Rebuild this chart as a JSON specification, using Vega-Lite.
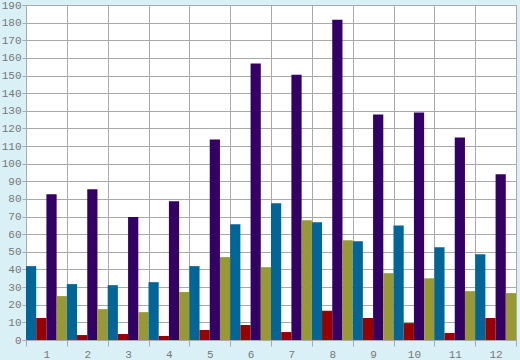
{
  "$schema": "https://vega.github.io/schema/vega-lite/v6.json",
  "autosize": "none",
  "width": 490,
  "height": 335,
  "padding": {"left": 26, "top": 5, "right": 4, "bottom": 20},
  "background": "#daf0f7",
  "config": {
    "view": {"fill": "white", "stroke": "#aaaaaa", "strokeWidth": 1},
    "axis": {
      "labelFont": "Liberation Mono",
      "labelFontSize": 11,
      "labelColor": "#777777",
      "gridColor": "#aaaaaa",
      "gridOpacity": 1,
      "gridWidth": 1,
      "tickColor": "#aaaaaa",
      "domainColor": "#aaaaaa",
      "title": null
    }
  },
  "data": {
    "values": [
      {"month": "1", "series": "s1", "value": 41.9},
      {"month": "1", "series": "s2", "value": 12.5},
      {"month": "1", "series": "s3", "value": 82.6},
      {"month": "1", "series": "s4", "value": 24.9},
      {"month": "2", "series": "s1", "value": 31.7},
      {"month": "2", "series": "s2", "value": 2.8},
      {"month": "2", "series": "s3", "value": 85.5},
      {"month": "2", "series": "s4", "value": 17.5},
      {"month": "3", "series": "s1", "value": 31.1},
      {"month": "3", "series": "s2", "value": 3.4},
      {"month": "3", "series": "s3", "value": 69.8},
      {"month": "3", "series": "s4", "value": 15.8},
      {"month": "4", "series": "s1", "value": 32.8},
      {"month": "4", "series": "s2", "value": 2.3},
      {"month": "4", "series": "s3", "value": 78.7},
      {"month": "4", "series": "s4", "value": 27.2},
      {"month": "5", "series": "s1", "value": 41.9},
      {"month": "5", "series": "s2", "value": 5.7},
      {"month": "5", "series": "s3", "value": 113.7},
      {"month": "5", "series": "s4", "value": 47},
      {"month": "6", "series": "s1", "value": 65.6},
      {"month": "6", "series": "s2", "value": 8.5},
      {"month": "6", "series": "s3", "value": 156.8},
      {"month": "6", "series": "s4", "value": 41.3},
      {"month": "7", "series": "s1", "value": 77.5},
      {"month": "7", "series": "s2", "value": 4.5},
      {"month": "7", "series": "s3", "value": 150.5},
      {"month": "7", "series": "s4", "value": 67.9},
      {"month": "8", "series": "s1", "value": 66.8},
      {"month": "8", "series": "s2", "value": 16.6},
      {"month": "8", "series": "s3", "value": 181.7},
      {"month": "8", "series": "s4", "value": 56.6},
      {"month": "9", "series": "s1", "value": 56},
      {"month": "9", "series": "s2", "value": 12.5},
      {"month": "9", "series": "s3", "value": 127.9},
      {"month": "9", "series": "s4", "value": 37.9},
      {"month": "10", "series": "s1", "value": 65},
      {"month": "10", "series": "s2", "value": 9.6},
      {"month": "10", "series": "s3", "value": 129},
      {"month": "10", "series": "s4", "value": 35},
      {"month": "11", "series": "s1", "value": 52.6},
      {"month": "11", "series": "s2", "value": 4},
      {"month": "11", "series": "s3", "value": 114.9},
      {"month": "11", "series": "s4", "value": 27.7},
      {"month": "12", "series": "s1", "value": 48.7},
      {"month": "12", "series": "s2", "value": 12.5},
      {"month": "12", "series": "s3", "value": 94},
      {"month": "12", "series": "s4", "value": 26.6}
    ]
  },
  "mark": {"type": "bar"},
  "encoding": {
    "x": {
      "field": "month",
      "type": "ordinal",
      "sort": null,
      "scale": {"paddingInner": 0, "paddingOuter": 0},
      "axis": {
        "labelAngle": 0,
        "tickBand": "extent",
        "grid": true,
        "tickSize": 6,
        "labelPadding": 2,
        "domain": false
      }
    },
    "xOffset": {
      "field": "series",
      "type": "nominal",
      "sort": ["s1", "s2", "s3", "s4"],
      "scale": {"paddingInner": 0, "paddingOuter": 0}
    },
    "y": {
      "field": "value",
      "type": "quantitative",
      "scale": {"domain": [0, 190], "nice": false},
      "axis": {
        "values": [0, 10, 20, 30, 40, 50, 60, 70, 80, 90, 100, 110, 120, 130, 140, 150, 160, 170, 180, 190],
        "tickSize": 4,
        "labelPadding": 1,
        "domain": false
      }
    },
    "color": {
      "field": "series",
      "type": "nominal",
      "scale": {"domain": ["s1", "s2", "s3", "s4"], "range": ["#006699", "#990000", "#330066", "#999933"]},
      "legend": null
    }
  }
}
